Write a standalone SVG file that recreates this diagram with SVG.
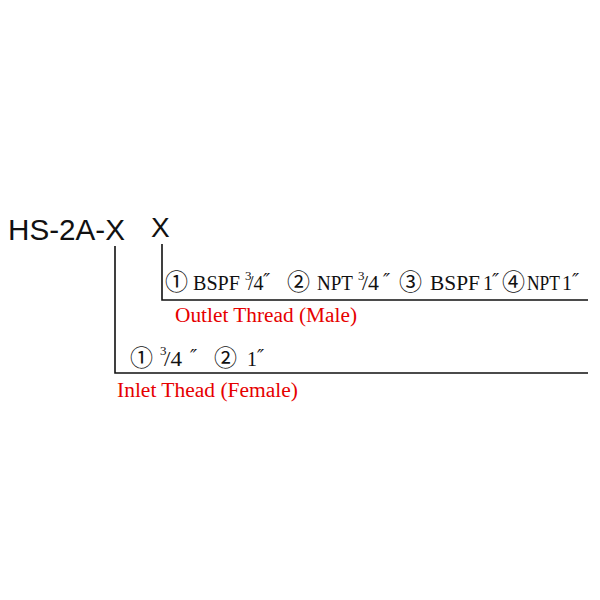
<svg xmlns="http://www.w3.org/2000/svg" width="600" height="600" viewBox="0 0 600 600">
<style>
.code{font-family:"Liberation Sans",Arial,sans-serif;fill:#111;}
.t{font-family:"Liberation Serif","Times New Roman",serif;font-size:20px;fill:#111;}
.sm{font-size:13px;}
.pr{font-family:"DejaVu Serif","Liberation Serif",serif;font-size:19px;fill:#111;font-style:italic;}
.c{font-family:"Noto Sans CJK JP","DejaVu Sans",sans-serif;font-size:23px;fill:#111;}
.red{font-family:"Liberation Serif","Times New Roman",serif;font-size:20px;fill:#e60000;}
.ln{fill:none;stroke:#111;stroke-width:1.6;}
</style>
<rect width="600" height="600" fill="#fff"/>
<g id="model">
<text class="code" x="8" y="240" font-size="30" textLength="117" lengthAdjust="spacingAndGlyphs">HS-2A-X</text>
<text class="code" x="151" y="237" font-size="28">X</text>
</g>
<g id="connectors">
<polyline class="ln" points="115,246 115,373 588,373"/>
<polyline class="ln" points="162,244 162,300 588,300"/>
</g>
<g id="outlet-options">
<text class="c" x="165" y="290">①</text>
<text class="t" x="193" y="290" textLength="47" lengthAdjust="spacingAndGlyphs">BSPF</text>
<text class="t" x="245" y="280"><tspan class="sm">3</tspan><tspan x="248" y="290">/4</tspan></text>
<text class="pr" x="263" y="287">″</text>
<text class="c" x="287" y="290">②</text>
<text class="t" x="317" y="290" textLength="36" lengthAdjust="spacingAndGlyphs">NPT</text>
<text class="t" x="358" y="280"><tspan class="sm">3</tspan><tspan x="362" y="290" textLength="17" lengthAdjust="spacingAndGlyphs">/4</tspan></text>
<text class="pr" x="383" y="287">″</text>
<text class="c" x="399" y="290">③</text>
<text class="t" x="430" y="290" textLength="50" lengthAdjust="spacingAndGlyphs">BSPF</text>
<text class="t" x="483" y="290">1</text>
<text class="pr" x="492" y="287">″</text>
<text class="c" x="502" y="290">④</text>
<text class="t" x="527" y="290" textLength="33" lengthAdjust="spacingAndGlyphs">NPT</text>
<text class="t" x="562" y="290">1</text>
<text class="pr" x="572" y="287">″</text>
</g>
<g id="outlet-label">
<text class="red" x="175" y="322" textLength="182" lengthAdjust="spacingAndGlyphs">Outlet Thread (Male)</text>
</g>
<g id="inlet-options">
<text class="c" x="130" y="366">①</text>
<text class="t" x="160" y="355"><tspan class="sm" font-size="14">3</tspan><tspan x="164" y="366" textLength="18" lengthAdjust="spacingAndGlyphs">/4</tspan></text>
<text class="pr" x="190" y="363">″</text>
<text class="c" x="214" y="366">②</text>
<text class="t" x="247" y="366">1</text>
<text class="pr" x="257" y="363">″</text>
</g>
<g id="inlet-label">
<text class="red" x="117" y="397" textLength="181" lengthAdjust="spacingAndGlyphs">Inlet Thead (Female)</text>
</g>
</svg>
